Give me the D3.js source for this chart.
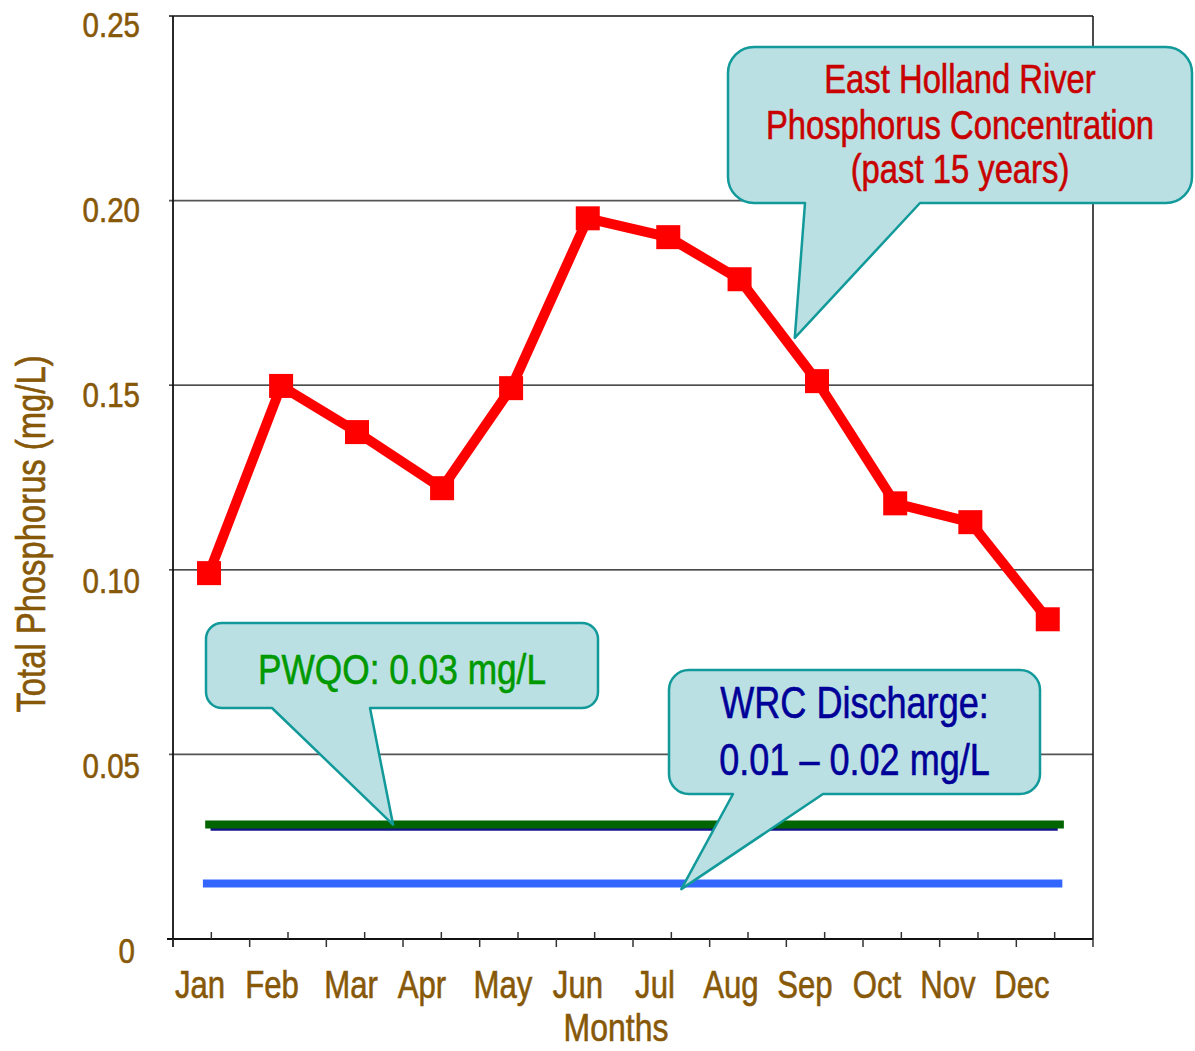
<!DOCTYPE html>
<html>
<head>
<meta charset="utf-8">
<script src="https://cdn.jsdelivr.net/npm/d3@7"></script>
<style>
  html, body { margin: 0; padding: 0; background: #fff; }
  svg { display: block; }
</style>
</head>
<body>
<svg id="chart" width="1195" height="1051"></svg>
<script>
// ---------------- DATA ----------------
const months = ["Jan","Feb","Mar","Apr","May","Jun","Jul","Aug","Sep","Oct","Nov","Dec"];
// x position of each observation, in months from the start of the year
const monthX = [0.47, 1.41, 2.40, 3.51, 4.41, 5.41, 6.46, 7.39, 8.40, 9.42, 10.40, 11.41];
// East Holland River total phosphorus (mg/L), 15-year monthly means
const phosphorus = [0.0991, 0.1498, 0.1373, 0.1221, 0.1492, 0.1952, 0.1901, 0.1787, 0.1511, 0.1180, 0.1129, 0.0866];
// reference lines: [start month, end month] and value
const pwqoX = [0.42, 11.62];     const pwqoValue = 0.031;
const guideX = [0.49, 11.54];    const guideValue = 0.0297;
const wrcX = [0.39, 11.60];      const wrcValue = 0.015;
// y axis
const yTicks = [0, 0.05, 0.10, 0.15, 0.20, 0.25];
const yTickLabels = ["0", "0.05", "0.10", "0.15", "0.20", "0.25"];
// x axis tick marks (every half month) and label positions (months)
const xMajorTicks = d3.range(0, 13, 1);
const xMinorTicks = d3.range(0.5, 12, 1);
const monthLabelX = [0.352, 1.291, 2.322, 3.248, 4.304, 5.282, 6.287, 7.278, 8.243, 9.182, 10.108, 11.073];
// annotation texts and the data points their pointers reach
const noteRiver = ["East Holland River", "Phosphorus Concentration", "(past 15 years)"];
const noteRiverTip = [8.11, 0.1628];
const notePwqo = ["PWQO: 0.03 mg/L"];
const notePwqoTip = [2.87, 0.031];
const noteWrc = ["WRC Discharge:", "0.01 \u2013 0.02 mg/L"];
const noteWrcTip = [6.63, 0.0135];

// ---------------- FONT ----------------
function fontExists(name) {
  const c = document.createElement("canvas").getContext("2d");
  const s = "abcdefghijklmnopqrstuvwxyz0123456789";
  c.font = "40px monospace"; const a = c.measureText(s).width;
  c.font = `40px "${name}", monospace`; const b = c.measureText(s).width;
  return Math.abs(a - b) > 0.5;
}
const hasNarrow = fontExists("Liberation Sans Narrow");
const FONT = hasNarrow ? '"Liberation Sans Narrow", "Arial Narrow", sans-serif' : '"Liberation Sans", Arial, sans-serif';
const SX = hasNarrow ? 1 : 0.82;

const BROWN = "#865808";

// ---------------- SCALES ----------------
const svg = d3.select("#chart");
const pLeft = 173, pRight = 1093, pTop = 16, pBottom = 939;
const x = d3.scaleLinear().domain([0, 12]).range([pLeft, pRight]);
const y = d3.scaleLinear().domain([0, 0.25]).range([pBottom, pTop]);
const yLabel = d3.scaleLinear().domain([0, 0.25]).range([963, 37]);

function txt(parent, px, py, s, opt) {
  const g = parent.append("g")
    .attr("transform", `translate(${px},${py})${opt.rotate ? ` rotate(${opt.rotate})` : ""} scale(${SX},1)`);
  g.append("text")
    .attr("text-anchor", opt.anchor || "middle")
    .attr("font-family", FONT)
    .attr("font-size", opt.size)
    .attr("fill", opt.fill)
    .attr("stroke", opt.fill)
    .attr("stroke-width", 0.6)
    .text(s);
  return g;
}

// ---------------- GRID & FRAME ----------------
const grid = svg.append("g");
grid.selectAll("line.grid").data(yTicks.filter(v => v > 0 && v < 0.25)).join("line")
  .attr("x1", pLeft - 4).attr("x2", pRight)
  .attr("y1", d => y(d)).attr("y2", d => y(d))
  .attr("stroke", (d, i) => (i === 0 || i === 3) ? "#555" : "#111")
  .attr("stroke-width", (d, i) => (i === 0 || i === 3) ? 1.8 : 1.3);
svg.append("line").attr("x1", pLeft - 4).attr("x2", pRight).attr("y1", y(0.25)).attr("y2", y(0.25))
  .attr("stroke", "#111").attr("stroke-width", 1.5);
svg.append("line").attr("x1", pRight).attr("x2", pRight).attr("y1", y(0.25)).attr("y2", y(0))
  .attr("stroke", "#111").attr("stroke-width", 1.5);
svg.append("line").attr("x1", pLeft).attr("x2", pLeft).attr("y1", y(0.25)).attr("y2", y(0) + 8)
  .attr("stroke", "#111").attr("stroke-width", 1.8);
svg.append("line").attr("x1", pLeft - 6).attr("x2", pRight).attr("y1", y(0)).attr("y2", y(0))
  .attr("stroke", "#111").attr("stroke-width", 1.8);
svg.append("g").selectAll("line").data(xMajorTicks).join("line")
  .attr("x1", d => x(d)).attr("x2", d => x(d)).attr("y1", y(0)).attr("y2", y(0) + 8)
  .attr("stroke", "#333").attr("stroke-width", 1.5);
svg.append("g").selectAll("line").data(xMinorTicks).join("line")
  .attr("x1", d => x(d)).attr("x2", d => x(d)).attr("y1", y(0)).attr("y2", y(0) - 7)
  .attr("stroke", "#333").attr("stroke-width", 1.5);

// ---------------- LABELS ----------------
yTicks.forEach((v, i) => txt(svg, v === 0 ? 135 : 140, yLabel(v), yTickLabels[i], {anchor: "end", size: 36, fill: BROWN}));
months.forEach((m, i) => txt(svg, x(monthLabelX[i]), 998, m, {size: 38, fill: BROWN}));
txt(svg, 616, 1041, "Months", {size: 39, fill: BROWN});
txt(svg, 45, 534, "Total Phosphorus (mg/L)", {size: 40, fill: BROWN, rotate: -90});

// ---------------- REFERENCE LINES ----------------
const hl = (xs, v) => xs.map(d => [x(d), y(v)]);
svg.append("path").attr("d", d3.line()(hl(guideX, guideValue)))
  .attr("stroke", "#14148a").attr("stroke-width", 3).attr("fill", "none");
svg.append("path").attr("d", d3.line()(hl(pwqoX, pwqoValue)))
  .attr("stroke", "#006400").attr("stroke-width", 8).attr("fill", "none");
svg.append("path").attr("d", d3.line()(hl(wrcX, wrcValue)))
  .attr("stroke", "#3366ff").attr("stroke-width", 8).attr("fill", "none");

// ---------------- RIVER SERIES ----------------
const pts = phosphorus.map((v, i) => [monthX[i], v]);
svg.append("path").datum(pts)
  .attr("d", d3.line().x(d => x(d[0])).y(d => y(d[1])))
  .attr("fill", "none").attr("stroke", "#ff0000").attr("stroke-width", 10)
  .attr("stroke-linejoin", "round");
svg.append("g").selectAll("rect").data(pts).join("rect")
  .attr("x", d => x(d[0]) - 12).attr("y", d => y(d[1]) - 12)
  .attr("width", 24).attr("height", 24).attr("fill", "#ff0000");

// ---------------- CALLOUTS ----------------
function callout(box, r, baseL, baseR, tip, lines, color, size, baselines) {
  const [x0, y0, x1, y1] = box;
  const p = d3.path();
  p.moveTo(x0 + r, y0);
  p.lineTo(x1 - r, y0); p.arcTo(x1, y0, x1, y0 + r, r);
  p.lineTo(x1, y1 - r); p.arcTo(x1, y1, x1 - r, y1, r);
  p.lineTo(baseR, y1); p.lineTo(tip[0], tip[1]); p.lineTo(baseL, y1);
  p.lineTo(x0 + r, y1); p.arcTo(x0, y1, x0, y1 - r, r);
  p.lineTo(x0, y0 + r); p.arcTo(x0, y0, x0 + r, y0, r);
  p.closePath();
  svg.append("path").attr("d", p.toString())
    .attr("fill", "#bae0e3").attr("stroke", "#12999a").attr("stroke-width", 2.5)
    .attr("stroke-linejoin", "round");
  const cx = (x0 + x1) / 2;
  lines.forEach((s, i) => txt(svg, cx, baselines[i], s, {size: size, fill: color}));
}
callout([728, 47, 1192, 203], 26, 805, 920, [x(noteRiverTip[0]), y(noteRiverTip[1])],
  noteRiver, "#c80000", 40, [93, 139, 183]);
callout([206, 623, 598, 708], 16, 272, 370, [x(notePwqoTip[0]), y(notePwqoTip[1])],
  notePwqo, "#009900", 43, [684]);
callout([669, 670, 1040, 794], 20, 733, 823, [x(noteWrcTip[0]), y(noteWrcTip[1])],
  noteWrc, "#000099", 44, [718, 775]);
</script>
</body>
</html>
